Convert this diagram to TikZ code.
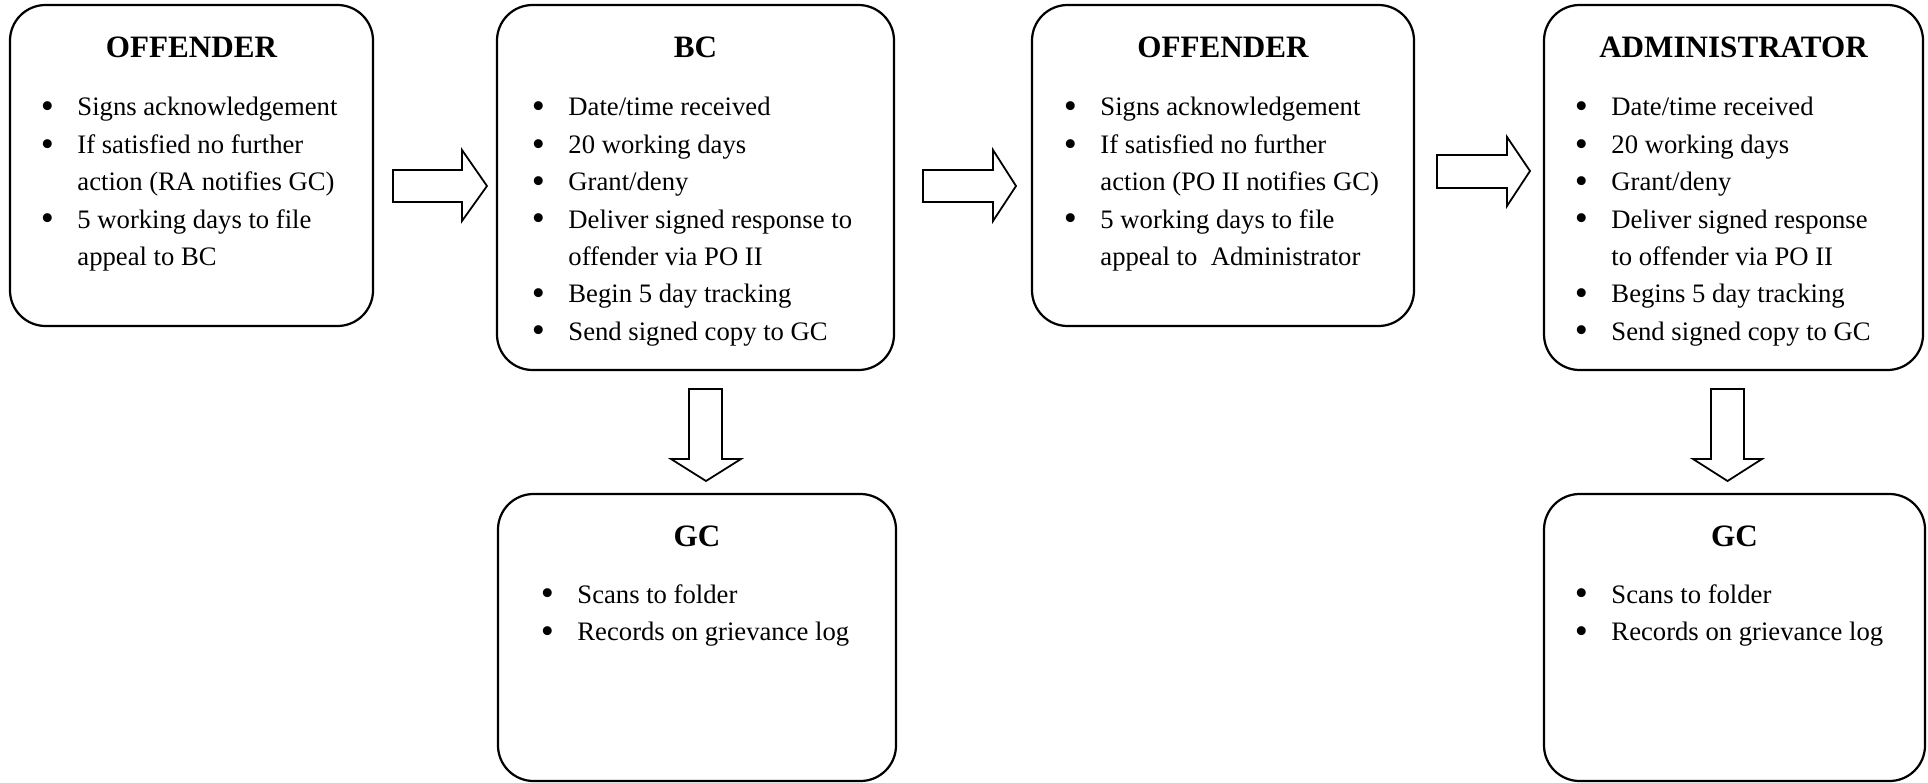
\documentclass[tikz,border=0pt]{standalone}
\usepackage{fontspec}
\usepackage{graphicx}
\setmainfont{Liberation Serif}
\usetikzlibrary{fit}
\newcommand\bl{\llap{\raisebox{-1.3pt}{\makebox[0pt][c]{\scalebox{1.4}{\textbullet}}}\hspace{13.5pt}}}
\begin{document}
\begin{tikzpicture}[x=0.45pt,y=-0.45pt,
  boxst/.style={draw, line width=1pt, rounded corners=16pt, inner sep=0pt},
  ttl/.style={anchor=base, inner sep=0pt, font=\fontsize{14}{16.8}\selectfont\bfseries},
  lst/.style={anchor=base west, inner sep=0pt, font=\fontsize{12}{16.8}\selectfont},
  blk/.style={draw, line width=0.8pt, fill=white, line join=miter}]
\useasboundingbox (0,0) rectangle (1928,783);

% boxes
\node[boxst, fit={(10,5) (373,326)}] (off1) {};
\node[boxst, fit={(497,5) (894,370)}] (bc) {};
\node[boxst, fit={(1032,5) (1414,326)}] (off2) {};
\node[boxst, fit={(1544,5) (1923,370)}] (adm) {};
\node[boxst, fit={(498,494) (896,781)}] (gc1) {};
\node[boxst, fit={(1544,494) (1925,781)}] (gc2) {};

% titles
\node[ttl] (off1h) at (off1.north |- 0,58) {OFFENDER};
\node[ttl] (bch) at (bc.north |- 0,58) {BC};
\node[ttl] (off2h) at (off2.north |- 0,58) {OFFENDER};
\node[ttl] (admh) at (adm.north |- 0,58) {ADMINISTRATOR};
\node[ttl] (gc1h) at (gc1.north |- 0,546) {GC};
\node[ttl] (gc2h) at (gc2.north |- 0,546) {GC};

% lists
\node[lst] (off1l) at (77,116) {\begin{tabular}[t]{@{}l@{}}
\bl Signs acknowledgement\\
\bl If satisfied no further\\
action (RA notifies GC)\\
\bl 5 working days to file\\
appeal to BC\end{tabular}};

\node[lst] (bcl) at (568,116) {\begin{tabular}[t]{@{}l@{}}
\bl Date/time received\\
\bl 20 working days\\
\bl Grant/deny\\
\bl Deliver signed response to\\
offender via PO II\\
\bl Begin 5 day tracking\\
\bl Send signed copy to GC\end{tabular}};

\node[lst] (off2l) at (1100,116) {\begin{tabular}[t]{@{}l@{}}
\bl Signs acknowledgement\\
\bl If satisfied no further\\
action (PO II notifies GC)\\
\bl 5 working days to file\\
appeal to\ \ Administrator\end{tabular}};

\node[lst] (adml) at (1611,116) {\begin{tabular}[t]{@{}l@{}}
\bl Date/time received\\
\bl 20 working days\\
\bl Grant/deny\\
\bl Deliver signed response\\
to offender via PO II\\
\bl Begins 5 day tracking\\
\bl Send signed copy to GC\end{tabular}};

\node[lst] (gc1l) at (577,603) {\begin{tabular}[t]{@{}l@{}}
\bl Scans to folder\\
\bl Records on grievance log\end{tabular}};

\node[lst] (gc2l) at (1611,603) {\begin{tabular}[t]{@{}l@{}}
\bl Scans to folder\\
\bl Records on grievance log\end{tabular}};

% block arrows
\draw[blk] (393,170) -- (462,170) -- (462,150) -- (487,186) -- (462,221) -- (462,202) -- (393,202) -- cycle;
\draw[blk] (923,170) -- (993,170) -- (993,150) -- (1016,186) -- (993,221) -- (993,202) -- (923,202) -- cycle;
\draw[blk] (1437,155) -- (1507,155) -- (1507,137) -- (1530,171) -- (1507,206) -- (1507,188) -- (1437,188) -- cycle;
\draw[blk] (689,389) -- (722,389) -- (722,459) -- (741,459) -- (706,481) -- (671,459) -- (689,459) -- cycle;
\draw[blk] (1711,389) -- (1744,389) -- (1744,459) -- (1762,459) -- (1727.5,481) -- (1693,459) -- (1711,459) -- cycle;
\end{tikzpicture}
\end{document}
